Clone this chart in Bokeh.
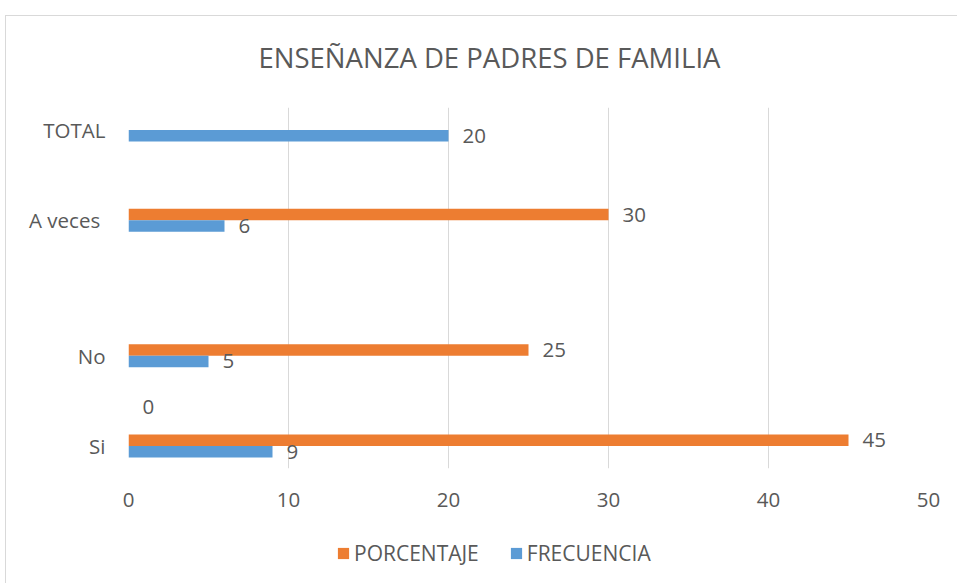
from bokeh.plotting import figure
from bokeh.layouts import column
from bokeh.models import (FactorRange, Range1d, ColumnDataSource, Legend,
                          LegendItem, FixedTicker, Title)
from bokeh.transform import dodge
from bokeh.core.properties import value
from bokeh.embed import file_html
from bokeh.resources import INLINE

# ---------------- data ----------------
categories = ["Si", " ", "No", "  ", "   ", "A  veces", "    ", "TOTAL"]
porcentaje = [45, None, 25, None, None, 30, None, None]
frecuencia = [9, 0, 5, None, None, 6, None, 20]
x_ticks = [0, 10, 20, 30, 40, 50]
series_names = ["PORCENTAJE", "FRECUENCIA"]
title_text = "ENSEÑANZA DE PADRES DE FAMILIA"

# ---------------- style ----------------
FONT = "Open Sans"
TEXT = "#595959"
ORANGE = "#ED7D31"
BLUE = "#5B9BD5"
GRID = "#D9D9D9"
BAR_H = 0.256
SMALL = "20.5px"


def make_source(vals):
    cats = [c for c, v in zip(categories, vals) if v is not None]
    vs = [v for v in vals if v is not None]
    return ColumnDataSource(dict(cat=cats, val=vs, lbl=[str(v) for v in vs]))


src_p = make_source(porcentaje)
src_f = make_source(frecuencia)

p = figure(frame_width=800, frame_height=361, title=None,
           y_range=FactorRange(factors=categories, range_padding=0),
           x_range=Range1d(0, 50),
           output_backend="svg", toolbar_location=None,
           min_border_left=122, min_border_right=29,
           min_border_top=91, min_border_bottom=60)
p.y_range.range_padding = 0
p.outline_line_color = None
p.background_fill_color = "white"
p.border_fill_color = "white"

# title (a small blank spacer next to the frame, the title above it)
p.add_layout(Title(text=" ", text_font_size="10px", standoff=14), "above")
p.add_layout(Title(text=title_text, align="left", offset=130, standoff=10,
                   vertical_align="bottom", text_font=FONT,
                   text_font_size="27.5px", text_font_style="normal",
                   text_color=TEXT), "above")

p.hbar(y=dodge("cat", BAR_H / 2, range=p.y_range), left=0, right="val",
       height=BAR_H, fill_color=ORANGE, line_color=None, source=src_p)
p.hbar(y=dodge("cat", -BAR_H / 2, range=p.y_range), left=0, right="val",
       height=BAR_H, fill_color=BLUE, line_color=None, source=src_f)

for src, off in ((src_p, BAR_H / 2), (src_f, -BAR_H / 2)):
    p.text(x="val", y=dodge("cat", off, range=p.y_range), text="lbl",
           x_offset=14, text_align="left", text_baseline="middle",
           text_font=value(FONT), text_font_size=SMALL, text_color=TEXT,
           source=src)

# grid & axes
p.xgrid.grid_line_color = GRID
p.ygrid.grid_line_color = None
p.xaxis.ticker = FixedTicker(ticks=x_ticks)
for ax in (p.xaxis, p.yaxis):
    ax.axis_line_color = None
    ax.major_tick_line_color = None
    ax.minor_tick_line_color = None
    ax.major_tick_out = 0
    ax.major_tick_in = 0
    ax.major_label_text_font = FONT
    ax.major_label_text_font_size = SMALL
    ax.major_label_text_color = TEXT
p.xaxis.major_label_standoff = 24
p.yaxis.major_label_standoff = 23

# ---------------- legend strip ----------------
lf = figure(width=951, height=55, x_range=Range1d(0, 1), y_range=Range1d(0, 1),
            output_backend="svg", toolbar_location=None,
            x_axis_location=None, y_axis_location=None,
            min_border=0, title=None)
lf.grid.visible = False
lf.outline_line_color = None
lf.border_fill_color = "white"
# legend-only renderers (kept outside the visible strip)
lg_p = lf.hbar(y=[-1], left=[0], right=[0], height=0.5,
               fill_color=ORANGE, line_color=None)
lg_f = lf.hbar(y=[-1], left=[0], right=[0], height=0.5,
               fill_color=BLUE, line_color=None)
legend = Legend(items=[LegendItem(label=series_names[0], renderers=[lg_p]),
                       LegendItem(label=series_names[1], renderers=[lg_f])],
                orientation="horizontal", location=(208, 16),
                padding=0, margin=0, spacing=30, label_standoff=4,
                glyph_width=14, glyph_height=14,
                border_line_color=None, background_fill_alpha=0,
                label_text_font=FONT, label_text_font_size="21px",
                label_text_color=TEXT)
lf.add_layout(legend)

layout = column(p, lf, spacing=0)
layout.styles = {"margin-left": "5px", "margin-top": "15px",
                 "border-top": "1px solid #D9D9D9",
                 "border-left": "1px solid #D9D9D9"}

open("out.html", "w").write(file_html(layout, INLINE))
